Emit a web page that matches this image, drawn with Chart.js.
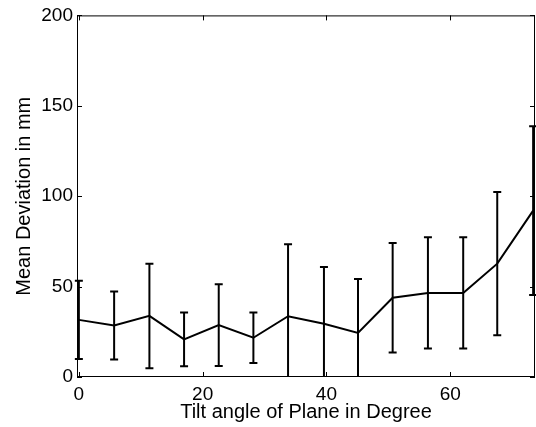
<!DOCTYPE html>
<html>
<head>
<meta charset="utf-8">
<script src="https://cdn.jsdelivr.net/npm/chart.js@4"></script>
<style>
  body { margin: 0; background: #fff; }
  #wrap { width: 536px; height: 427px; }
</style>
</head>
<body>
<div id="wrap"><canvas id="tiltChart"></canvas></div>
<script>
// tilt angles (deg), mean deviation (mm) and error half-widths
const angles = [0, 5.7, 11.4, 17.0, 22.6, 28.2, 33.8, 39.6, 45.1, 50.7, 56.4, 62.1, 67.6, 73.4];
const meanDev = [31.6, 28.5, 33.8, 20.8, 28.7, 21.7, 33.6, 29.4, 24.4, 43.8, 46.5, 46.5, 62.7, 92.0];
const errDev = [21.7, 18.8, 28.9, 14.9, 22.6, 14.0, 39.8, 31.5, 29.8, 30.3, 30.8, 30.8, 39.6, 46.7];
const xTicks = [0, 20, 40, 60];
const yTicks = [0, 50, 100, 150, 200];

const FONT = 'Liberation Sans, Arial, Helvetica, sans-serif';

// error bars + box with inward ticks, drawn from the chart scales
const errorBars = {
    id: 'errorBars',
    afterDatasetsDraw(chart) {
        const { ctx, chartArea: a, scales: { x, y } } = chart;
        ctx.save();
        // clip only top/bottom so the end caps stay whole
        ctx.beginPath();
        ctx.rect(0, a.top, chart.width, a.bottom - a.top);
        ctx.clip();
        ctx.strokeStyle = '#000';
        ctx.lineWidth = 2;
        angles.forEach((ang, i) => {
            const px = x.getPixelForValue(ang);
            const yTop = y.getPixelForValue(meanDev[i] + errDev[i]);
            const yBot = y.getPixelForValue(meanDev[i] - errDev[i]);
            ctx.beginPath();
            ctx.moveTo(px, yTop);
            ctx.lineTo(px, yBot);
            ctx.moveTo(px - 4, yTop);
            ctx.lineTo(px + 4, yTop);
            ctx.moveTo(px - 4, yBot);
            ctx.lineTo(px + 4, yBot);
            ctx.stroke();
        });
        ctx.restore();
    },
    afterDraw(chart) {
        const { ctx, chartArea: a, scales: { x, y } } = chart;
        ctx.save();
        ctx.strokeStyle = '#000';
        ctx.lineWidth = 1;
        ctx.strokeRect(a.left + 0.5, a.top + 0.5, a.right - a.left - 1, a.bottom - a.top - 1);
        ctx.beginPath();
        xTicks.forEach(v => {
            const px = Math.round(x.getPixelForValue(v)) + 0.5;
            ctx.moveTo(px, a.bottom); ctx.lineTo(px, a.bottom - 5);
            ctx.moveTo(px, a.top); ctx.lineTo(px, a.top + 5);
        });
        yTicks.forEach(v => {
            const py = Math.round(y.getPixelForValue(v)) + 0.5;
            ctx.moveTo(a.left, py); ctx.lineTo(a.left + 5, py);
            ctx.moveTo(a.right, py); ctx.lineTo(a.right - 5, py);
        });
        ctx.stroke();
        ctx.restore();
    }
};

new Chart(document.getElementById('tiltChart'), {
    type: 'line',
    data: {
        datasets: [{
            data: angles.map((a, i) => ({ x: a, y: meanDev[i] })),
            borderColor: '#000',
            borderWidth: 2,
            pointRadius: 0,
            tension: 0,
            clip: false
        }]
    },
    options: {
        responsive: true,
        maintainAspectRatio: false,
        animation: false,
        layout: { padding: { top: 15, right: 1, left: 0, bottom: 0 } },
        plugins: { legend: { display: false }, tooltip: { enabled: false } },
        scales: {
            x: {
                type: 'linear',
                min: -0.3,
                max: 73.7,
                grid: { display: false, drawTicks: false },
                border: { display: false },
                afterBuildTicks: s => { s.ticks = xTicks.map(v => ({ value: v })); },
                afterFit: s => { s.height = 50; },
                ticks: { color: '#000', font: { family: FONT, size: 19 }, padding: 6, maxRotation: 0 },
                title: {
                    display: true,
                    text: 'Tilt angle of Plane in Degree',
                    color: '#000',
                    font: { family: FONT, size: 20 },
                    padding: { top: 0, bottom: 3 }
                }
            },
            y: {
                min: 0,
                max: 200,
                grid: { display: false, drawTicks: false },
                border: { display: false },
                afterBuildTicks: s => { s.ticks = yTicks.map(v => ({ value: v })); },
                afterFit: s => { s.width = 77; },
                ticks: { color: '#000', font: { family: FONT, size: 19 }, padding: 4 },
                title: {
                    display: true,
                    text: 'Mean Deviation in mm',
                    color: '#000',
                    font: { family: FONT, size: 20 },
                    padding: { top: 12, bottom: 0 }
                }
            }
        }
    },
    plugins: [errorBars]
});
</script>
</body>
</html>
